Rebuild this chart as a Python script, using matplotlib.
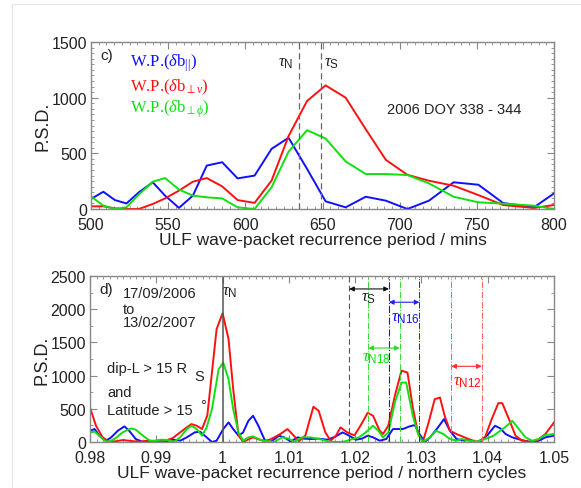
import numpy as np
import matplotlib
matplotlib.use('Agg')
import matplotlib.pyplot as plt
from matplotlib.ticker import MultipleLocator
from matplotlib.patches import Rectangle

plt.rcParams['font.family'] = ['Liberation Sans', 'DejaVu Sans']
plt.rcParams['mathtext.fontset'] = 'custom'
plt.rcParams['mathtext.rm'] = 'Liberation Serif'
plt.rcParams['mathtext.it'] = 'Liberation Serif:italic'
plt.rcParams['mathtext.sf'] = 'Liberation Sans'
plt.rcParams['mathtext.fallback'] = 'stix'

# panel c) : recurrence period in minutes
top_x = [500, 508, 515.5, 523, 531, 540, 548, 557, 566, 575, 585, 595, 606, 617,
         628, 640, 652, 665, 678, 691, 705, 719, 735, 751, 767, 787, 800]
top_blue = [90, 155, 80, 50, 150, 240, 120, 10, 120, 390, 420, 275, 300, 540,
            640, 360, 69, 15, 110, 75, 0, 75, 240, 218, 54, 15, 140]
top_red = [24, 24, 6, 0, 0, 45, 95, 165, 245, 278, 203, 80, 55, 255,
           655, 970, 1110, 1000, 717, 442, 307, 254, 209, 125, 36, 9, 36]
top_green = [113, 30, 0, 15, 130, 245, 278, 175, 120, 105, 95, 15, 0, 195,
             515, 708, 633, 427, 314, 314, 305, 230, 110, 60, 48, 30, 0]
tau_n_top = 635
tau_s_top = 649

# panel d) : recurrence period in northern cycles
red_x = [0.9800, 0.9809, 0.9819, 0.9829, 0.9838, 0.9850, 0.9862, 0.9875, 0.9887, 0.9900,
         0.9912, 0.9925, 0.9936, 0.9946, 0.9953, 0.9961, 0.9969, 0.9977, 0.9991, 1.0000,
         1.0009, 1.0016, 1.0024, 1.0031, 1.0039, 1.0046, 1.0054, 1.0062, 1.0070, 1.0078,
         1.0087, 1.0098, 1.0107, 1.0115, 1.0125, 1.0137, 1.0145, 1.0155, 1.0163, 1.0171,
         1.0178, 1.0188, 1.0199, 1.0208, 1.0219, 1.0227, 1.0237, 1.0242, 1.0250, 1.0260,
         1.0270, 1.0279, 1.0287, 1.0295, 1.0302, 1.0311, 1.0320, 1.0328, 1.0335, 1.0343,
         1.0353, 1.0365, 1.0371, 1.0384, 1.0396, 1.0406, 1.0416, 1.0422, 1.0432, 1.0442,
         1.0452, 1.0462, 1.0474, 1.0487, 1.0500]
red_y = [520, 245, 70, 5, 10, 30, 15, 5, 20, 10,
         15, 60, 145, 220, 270, 245, 195, 400, 1700, 1940,
         1550, 800, 100, 0, 40, 70, 40, 20, 30, 70,
         120, 195, 100, 10, 100, 530, 470, 145, 20, 95,
         220, 145, 100, 245, 440, 395, 170, 120, 245, 700,
         1075, 1045, 520, 120, 0, 300, 645, 670, 395, 170,
         120, 70, 45, 0, 70, 345, 585, 585, 345, 95,
         20, 5, 20, 120, 295]

blue_x = [0.9800, 0.9807, 0.9814, 0.9824, 0.9832, 0.9842, 0.9852, 0.9859, 0.9869, 0.9880,
          0.9890, 0.9902, 0.9914, 0.9925, 0.9936, 0.9946, 0.9958, 0.9966, 0.9976, 0.9984,
          0.9991, 1.0001, 1.0009, 1.0016, 1.0024, 1.0031, 1.0039, 1.0046, 1.0054, 1.0064,
          1.0072, 1.0082, 1.0085, 1.0093, 1.0103, 1.0113, 1.0123, 1.0133, 1.0145, 1.0158,
          1.0170, 1.0181, 1.0191, 1.0201, 1.0210, 1.0219, 1.0227, 1.0237, 1.0247, 1.0257,
          1.0272, 1.0282, 1.0290, 1.0297, 1.0305, 1.0313, 1.0325, 1.0334, 1.0343, 1.0353,
          1.0365, 1.0371, 1.0381, 1.0391, 1.0401, 1.0411, 1.0419, 1.0427, 1.0437, 1.0449,
          1.0462, 1.0474, 1.0487, 1.0500]
blue_y = [170, 195, 95, 20, 70, 170, 235, 170, 45, 0,
          5, 20, 10, 35, 20, 70, 145, 155, 70, 0,
          20, 195, 295, 195, 95, 145, 320, 395, 245, 20,
          0, 70, 95, 70, 5, 70, 50, 45, 50, 35,
          80, 145, 95, 35, 50, 95, 70, 20, 45, 195,
          195, 235, 255, 120, 0, 70, 220, 345, 170, 45,
          20, 35, 0, 20, 120, 245, 205, 120, 70, 35,
          5, 5, 70, 95]

green_x = [0.9800, 0.9807, 0.9814, 0.9822, 0.9829, 0.9839, 0.9849, 0.9862, 0.9869, 0.9880,
           0.9890, 0.9900, 0.9907, 0.9917, 0.9927, 0.9936, 0.9946, 0.9953, 0.9961, 0.9969,
           0.9976, 0.9984, 0.9994, 1.0001, 1.0009, 1.0016, 1.0024, 1.0031, 1.0039, 1.0046,
           1.0054, 1.0061, 1.0070, 1.0078, 1.0090, 1.0100, 1.0108, 1.0120, 1.0133, 1.0146,
           1.0161, 1.0173, 1.0183, 1.0193, 1.0206, 1.0216, 1.0227, 1.0235, 1.0242, 1.0250,
           1.0260, 1.0270, 1.0277, 1.0287, 1.0295, 1.0302, 1.0313, 1.0322, 1.0333, 1.0343,
           1.0353, 1.0361, 1.0371, 1.0384, 1.0396, 1.0409, 1.0419, 1.0429, 1.0437, 1.0447,
           1.0457, 1.0467, 1.0477, 1.0487, 1.0500]
green_y = [145, 155, 95, 20, 5, 60, 145, 205, 185, 95,
           20, 20, 35, 30, 5, 70, 195, 245, 195, 95,
           220, 495, 1095, 1195, 945, 495, 145, 20, 70, 85,
           45, 20, 10, 0, 70, 50, 0, 70, 70, 45,
           5, 0, 5, 35, 70, 145, 245, 170, 70, 145,
           595, 895, 895, 395, 120, 0, 70, 170, 120, 45,
           20, 45, 20, 5, 45, 95, 170, 245, 320, 195,
           70, 20, 45, 105, 120]

tau_s_range = [1.0191, 1.0251]
tau_n16_range = [1.0251, 1.0297]
tau_n18_range = [1.0220, 1.0267]
tau_n12_range = [1.0345, 1.0391]

BLUE = '#1010ff'
RED = '#ff1010'
GREEN = '#10e010'
TXT = '#222222'
SPINE = '#888888'

fig = plt.figure(figsize=(5.81, 4.89), dpi=100)
fig.patches.append(Rectangle((12 / 581, 0), 1.0, 1 - 5 / 489, transform=fig.transFigure,
                             fill=False, edgecolor='#e6e6e6', lw=0.8))


def style_axes(ax):
    for s in ax.spines.values():
        s.set_color(SPINE)
        s.set_linewidth(1.0)
    ax.tick_params(which='both', direction='in', top=True, right=True,
                   color=SPINE, labelcolor=TXT, labelsize=11.5)
    ax.tick_params(which='major', length=5, width=0.8)
    ax.tick_params(which='minor', length=2.5, width=0.6)
    ax.tick_params(axis='x', which='major', pad=6)
    ax.tick_params(axis='y', which='major', pad=3)


def tau(ax, x, y, sub, color, **kw):
    ax.text(x, y, r'$\tau_{\mathsf{' + sub + '}}$', fontsize=12, color=color,
            ha='center', va='center', **kw)


# ---- panel c ----
ax1 = fig.add_axes([91 / 581, 1 - 210 / 489, 463 / 581, 167 / 489])
ax1.plot(top_x, top_blue, color=BLUE, lw=1.4)
ax1.plot(top_x, top_red, color=RED, lw=1.4)
ax1.plot(top_x, top_green, color=GREEN, lw=1.4)
ax1.axvline(tau_n_top, color='#666666', ls=(0, (5, 3)), lw=0.9)
ax1.axvline(tau_s_top, color='#666666', ls=(0, (5, 3)), lw=0.9)
ax1.set_xlim(500, 800)
ax1.set_ylim(0, 1500)
ax1.xaxis.set_major_locator(MultipleLocator(50))
ax1.xaxis.set_minor_locator(MultipleLocator(5))
ax1.yaxis.set_major_locator(MultipleLocator(500))
ax1.yaxis.set_minor_locator(MultipleLocator(50))
style_axes(ax1)
ax1.set_ylabel('P.S.D.', fontsize=13, color=TXT, labelpad=0)
ax1.set_xlabel('ULF wave-packet recurrence period / mins', fontsize=12.5, color=TXT, labelpad=0)

ax1.text(0.02, 0.92, 'c)', transform=ax1.transAxes, fontsize=11, color=TXT, va='center')
legend_rows = [(r'W.P.($\delta\mathrm{b}_{||}$)', BLUE, 0.88),
               (r'W.P.($\delta\mathrm{b}_{\perp\nu}$)', RED, 0.735),
               (r'W.P.($\delta\mathrm{b}_{\perp\phi}$)', GREEN, 0.605)]
for lab, col, yy in legend_rows:
    ax1.text(0.085, yy, lab, transform=ax1.transAxes, fontsize=12, color=col,
             va='center', family='Liberation Serif')
tau(ax1, 626, 1320, 'N', TXT)
tau(ax1, 656, 1320, 'S', TXT)
ax1.text(0.93, 0.6, '2006 DOY 338 - 344', transform=ax1.transAxes, fontsize=10.5,
         color=TXT, ha='right', va='center')

# ---- panel d ----
ax2 = fig.add_axes([90 / 581, 1 - 443 / 489, 464 / 581, 166 / 489])
ax2.plot(blue_x, blue_y, color=BLUE, lw=1.4)
ax2.plot(red_x, red_y, color=RED, lw=1.4)
ax2.plot(green_x, green_y, color=GREEN, lw=1.4)
ax2.axvline(1.0, color='#555555', lw=1.1)
ax2.axvline(tau_s_range[0], color='#555555', ls=(0, (5, 3)), lw=0.8)
ax2.axvline(tau_n16_range[0], color='#2020a0', ls='-.', lw=0.8)
ax2.axvline(tau_n16_range[1], color='#2020c0', ls='-.', lw=0.7)
for xv in tau_n18_range:
    ax2.axvline(xv, color='#30e030', ls='-.', lw=0.7)
for xv in tau_n12_range:
    ax2.axvline(xv, color='#ff6060', ls='-.', lw=0.7)


def span_arrow(rng, y, color):
    ax2.annotate('', xy=(rng[0], y), xytext=(rng[1], y),
                 arrowprops=dict(arrowstyle='<|-|>', color=color, lw=0.8,
                                 mutation_scale=7, shrinkA=0, shrinkB=0))


span_arrow(tau_s_range, 2305, '#111111')
span_arrow(tau_n16_range, 2105, '#2020ff')
span_arrow(tau_n18_range, 1415, '#20e020')
span_arrow(tau_n12_range, 1140, '#ff3030')

tau(ax2, 1.0221, 2170, 'S', TXT)
tau(ax2, 1.0276, 1880, 'N16', BLUE)
tau(ax2, 1.0232, 1270, 'N18', GREEN)
tau(ax2, 1.0369, 910, 'N12', RED)
tau(ax2, 1.0011, 2260, 'N', TXT)

ax2.set_xlim(0.98, 1.05)
ax2.set_ylim(0, 2500)
ax2.xaxis.set_major_locator(MultipleLocator(0.01))
ax2.xaxis.set_minor_locator(MultipleLocator(0.001))
ax2.yaxis.set_major_locator(MultipleLocator(500))
ax2.yaxis.set_minor_locator(MultipleLocator(250))
ax2.set_xticks([0.98, 0.99, 1.0, 1.01, 1.02, 1.03, 1.04, 1.05])
ax2.set_xticklabels(['0.98', '0.99', '1', '1.01', '1.02', '1.03', '1.04', '1.05'])
style_axes(ax2)
ax2.set_ylabel('P.S.D.', fontsize=13, color=TXT, labelpad=0)
ax2.set_xlabel('ULF wave-packet recurrence period / northern cycles', fontsize=12.5,
               color=TXT, labelpad=0)

ax2.text(0.02, 0.92, 'd)', transform=ax2.transAxes, fontsize=11, color=TXT, va='center')
ax2.text(0.07, 0.9, '17/09/2006', transform=ax2.transAxes, fontsize=10.5, color=TXT, va='center')
ax2.text(0.07, 0.8, 'to', transform=ax2.transAxes, fontsize=10.5, color=TXT, va='center')
ax2.text(0.07, 0.72, '13/02/2007', transform=ax2.transAxes, fontsize=10.5, color=TXT, va='center')
ax2.text(0.037, 0.445, 'dip-L > 15 R', transform=ax2.transAxes, fontsize=10.5, color=TXT, va='center')
ax2.text(0.225, 0.395, 'S', transform=ax2.transAxes, fontsize=10.5, color=TXT, va='center')
ax2.text(0.037, 0.3, 'and', transform=ax2.transAxes, fontsize=10.5, color=TXT, va='center')
ax2.text(0.037, 0.19, 'Latitude > 15', transform=ax2.transAxes, fontsize=10.5, color=TXT, va='center')
ax2.text(0.238, 0.22, '°', transform=ax2.transAxes, fontsize=10.5, color=TXT, va='center')

fig.savefig('out.png', dpi=100)
